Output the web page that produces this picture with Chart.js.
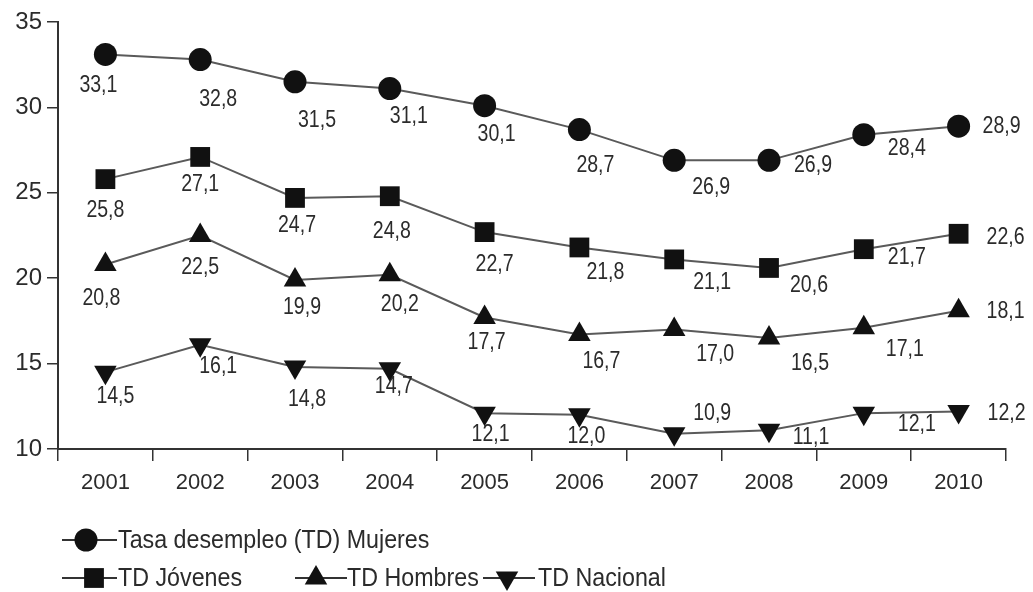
<!DOCTYPE html>
<html>
<head>
<meta charset="utf-8">
<script src="https://cdn.jsdelivr.net/npm/chart.js@4.4.1/dist/chart.umd.min.js"></script>
<style>
html,body{margin:0;padding:0;background:#fff;}
#wrap{width:1033px;height:592px;}
</style>
</head>
<body>
<div id="wrap"><canvas id="c" width="1033" height="592"></canvas></div>
<script>
// ---- data ----
const years = ['2001','2002','2003','2004','2005','2006','2007','2008','2009','2010'];
const seriesNames = ['Tasa desempleo (TD) Mujeres','TD Jóvenes','TD Hombres','TD Nacional'];
const mujeres  = [33.1, 32.8, 31.5, 31.1, 30.1, 28.7, 26.9, 26.9, 28.4, 28.9];
const jovenes  = [25.8, 27.1, 24.7, 24.8, 22.7, 21.8, 21.1, 20.6, 21.7, 22.6];
const hombres  = [20.8, 22.5, 19.9, 20.2, 17.7, 16.7, 17.0, 16.5, 17.1, 18.1];
const nacional = [14.5, 16.1, 14.8, 14.7, 12.1, 12.0, 10.9, 11.1, 12.1, 12.2];
const yTicks = [10, 15, 20, 25, 30, 35];

// label placement offsets (text centre relative to the point), in px
const offMujeres  = [[-7,31],[18,40],[22,39],[19,28],[12,29],[16,36],[37,27],[44,5],[43,14],[43,0]];
const offJovenes  = [[0,32],[0,28],[2,28],[2,35],[10,33],[26,25],[38,23],[40,18],[43,8],[47,4]];
const offHombres  = [[-4,34],[0,32],[7,28],[10,30],[2,25],[22,27],[41,25],[41,26],[41,22],[47,1]];
const offNacional = [[10,25],[18,22],[12,33],[4,18],[6,22],[7,22],[38,-20],[42,7],[53,12],[48,2]];

const FONT = "'Liberation Sans', Arial, sans-serif";
const TXT = '#2b2b2b';
const MARK = '#111111';
const LINE = '#5a5a5a';

const fmt = v => v.toFixed(1).replace('.', ',');

const mk = (label, data, style, radius, rot, offs) => ({
  label, data,
  borderColor: LINE, borderWidth: 2,
  pointStyle: style, pointRadius: radius, pointHoverRadius: radius,
  pointRotation: rot,
  pointBackgroundColor: MARK, pointBorderColor: MARK, pointBorderWidth: 0,
  tension: 0, fill: false, _offs: offs
});

const datasets = [
  mk(seriesNames[0], mujeres, 'circle', 11.5, 0, offMujeres),
  mk(seriesNames[1], jovenes, 'rect', 14, 0, offJovenes),
  mk(seriesNames[2], hombres, 'triangle', 13, 0, offHombres),
  mk(seriesNames[3], nacional, 'triangle', 13, 180, offNacional)
];

// draw text horizontally condensed (the source uses a narrow face)
function condensedText(ctx, text, x, y, sx) {
  ctx.save();
  ctx.translate(x, y);
  ctx.scale(sx, 1);
  ctx.fillText(text, 0, 0);
  ctx.restore();
}

const valueLabels = {
  id: 'valueLabels',
  afterDatasetsDraw(chart) {
    const ctx = chart.ctx;
    ctx.save();
    ctx.font = '23px ' + FONT;
    ctx.fillStyle = TXT;
    ctx.textAlign = 'center';
    ctx.textBaseline = 'middle';
    chart.data.datasets.forEach((ds, di) => {
      const meta = chart.getDatasetMeta(di);
      meta.data.forEach((pt, i) => {
        const o = ds._offs[i];
        condensedText(ctx, fmt(ds.data[i]), pt.x + o[0], pt.y + o[1], 0.85);
      });
    });
    ctx.restore();
  }
};

const customLegend = {
  id: 'customLegend',
  afterDraw(chart) {
    const ctx = chart.ctx;
    const ds = chart.data.datasets;
    // [lineStart, lineEnd, markerX, y, textX]
    const items = [
      [62, 117, 86, 540, 118],
      [62, 117, 94, 578, 118],
      [295, 347, 316, 578, 347],
      [483, 535, 507, 578, 538]
    ];
    ctx.save();
    items.forEach((it, i) => {
      const d = ds[i];
      ctx.strokeStyle = '#333';
      ctx.lineWidth = 2;
      ctx.beginPath();
      ctx.moveTo(it[0], it[3]);
      ctx.lineTo(it[1], it[3]);
      ctx.stroke();
      ctx.fillStyle = MARK;
      ctx.strokeStyle = MARK;
      Chart.helpers.drawPoint(ctx, {
        pointStyle: d.pointStyle, rotation: d.pointRotation,
        radius: d.pointRadius, borderWidth: 0
      }, it[2], it[3]);
      ctx.fillStyle = TXT;
      ctx.font = '25px ' + FONT;
      ctx.textAlign = 'left';
      ctx.textBaseline = 'middle';
      condensedText(ctx, d.label, it[4], it[3] + 1, 0.93);
    });
    ctx.restore();
  }
};

new Chart(document.getElementById('c'), {
  type: 'line',
  data: { labels: years, datasets },
  options: {
    responsive: false,
    animation: false,
    layout: { padding: { left: 0, right: 27, top: 22, bottom: 96 } },
    plugins: { legend: { display: false }, tooltip: { enabled: false } },
    scales: {
      x: {
        type: 'category',
        offset: true,
        grid: { offset: true, drawOnChartArea: false, drawTicks: true, tickLength: 12, color: '#333', lineWidth: 1.5 },
        border: { color: '#333', width: 2 },
        ticks: { color: TXT, font: { family: FONT, size: 22 }, padding: 9, maxRotation: 0 },
        afterFit(s) { s.height = 47; }
      },
      y: {
        min: 10, max: 35,
        afterBuildTicks(s) { s.ticks = yTicks.map(v => ({ value: v })); },
        grid: { drawOnChartArea: false, drawTicks: true, tickLength: 11, color: '#333', lineWidth: 1.5 },
        border: { color: '#333', width: 2 },
        ticks: { color: TXT, font: { family: FONT, size: 24 }, padding: 5 },
        afterFit(s) { s.width = 58; }
      }
    }
  },
  plugins: [valueLabels, customLegend]
});
</script>
</body>
</html>
